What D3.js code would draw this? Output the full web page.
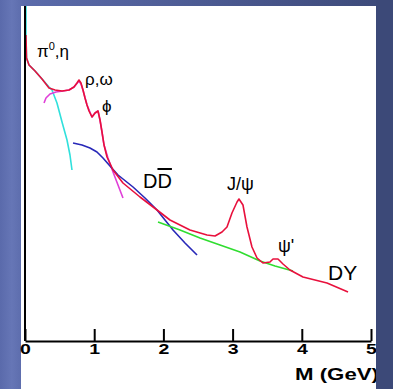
<!DOCTYPE html>
<html><head><meta charset="utf-8">
<script src="https://cdn.jsdelivr.net/npm/d3@7"></script>
<style>html,body{margin:0;padding:0;background:#4a5a90;}svg{display:block;}</style>
</head><body>
<script>
// ---- data (x = mass M in GeV, y = log10 of yield, arbitrary units) ----
const xTicks = [0, 1, 2, 3, 4, 5];
const xLabel = "M (GeV)";

const totalM = [0.014,0.022,0.058,0.145,0.246,0.347,0.434,0.535,0.636,0.708,0.751,0.780,0.809,0.838,0.867,0.896,0.925,0.968,1.012,1.055,1.084,1.113,1.142,1.185,1.272,1.416,1.662,1.908,2.095,2.384,2.630,2.746,2.847,2.919,2.991,3.064,3.092,3.150,3.208,3.280,3.353,3.439,3.540,3.584,3.656,3.728,3.829,4.017,4.364,4.668];
const totalY = [-0.58,-1.04,-1.18,-1.30,-1.46,-1.64,-1.68,-1.70,-1.68,-1.62,-1.54,-1.48,-1.54,-1.68,-1.84,-1.98,-2.10,-2.22,-2.14,-2.10,-2.28,-2.52,-2.78,-3.02,-3.28,-3.54,-3.82,-4.08,-4.28,-4.48,-4.58,-4.60,-4.52,-4.42,-4.14,-3.92,-3.86,-3.98,-4.42,-4.82,-5.04,-5.14,-5.12,-5.06,-5.06,-5.16,-5.28,-5.42,-5.54,-5.72];

const dalitzM = [0.014,0.014,0.022,0.058,0.145,0.246,0.347,0.390,0.462,0.535,0.607,0.650,0.679];
const dalitzY = [0.00,-0.58,-1.04,-1.18,-1.30,-1.46,-1.62,-1.68,-1.94,-2.32,-2.68,-2.98,-3.28];

const vectorM = [0.275,0.303,0.361,0.448,0.549,0.636,0.708,0.780,0.809,0.838,0.896,0.968,1.012,1.055,1.084,1.142,1.199,1.272,1.344,1.416];
const vectorY = [-1.94,-1.84,-1.76,-1.72,-1.70,-1.68,-1.62,-1.50,-1.56,-1.68,-1.98,-2.22,-2.14,-2.10,-2.28,-2.78,-3.04,-3.32,-3.58,-3.84];

const charmM = [0.694,0.824,0.939,1.040,1.127,1.228,1.344,1.561,1.734,1.908,2.023,2.139,2.312,2.486];
const charmY = [-2.74,-2.78,-2.84,-2.92,-3.04,-3.20,-3.38,-3.62,-3.84,-4.08,-4.28,-4.48,-4.74,-4.98];

const dyM = [1.922,2.240,2.529,2.818,3.107,3.396,3.613,3.873];
const dyY = [-4.32,-4.48,-4.64,-4.78,-4.92,-5.10,-5.20,-5.30];

// ---- layout ----
const W = 393, H = 389;
const svg = d3.select("body").append("svg").attr("width", W).attr("height", H);
const defs = svg.append("defs");
const g = defs.append("linearGradient").attr("id","bg").attr("x1","0").attr("x2","1").attr("y1","0").attr("y2","0");
g.append("stop").attr("offset","0").attr("stop-color","#5a6aab");
g.append("stop").attr("offset","0.03").attr("stop-color","#6676b6");
g.append("stop").attr("offset","0.06").attr("stop-color","#5b6bab");
g.append("stop").attr("offset","1").attr("stop-color","#3c4978");
svg.append("rect").attr("width",W).attr("height",H).attr("fill","url(#bg)");
svg.append("rect").attr("x",21).attr("y",6).attr("width",355).attr("height",H-6).attr("fill","#ffffff");

const x = d3.scaleLinear().domain([0, 5]).range([25, 371]);
const y = d3.scaleLinear().domain([-6.7, 0]).range([341, 6]);

const line = d3.line().x(d => x(d[0])).y(d => y(d[1]));
const zip = (a, b) => a.map((v, i) => [v, b[i]]);

const curves = [
  {m: dalitzM, v: dalitzY, c: "#30e0dc"},
  {m: vectorM, v: vectorY, c: "#e040d8"},
  {m: charmM,  v: charmY,  c: "#2828b8"},
  {m: dyM,     v: dyY,     c: "#30dd30"},
  {m: totalM,  v: totalY,  c: "#e8103c"}
];
curves.forEach(cv => {
  svg.append("path").attr("d", line(zip(cv.m, cv.v)))
    .attr("fill","none").attr("stroke", cv.c).attr("stroke-width", 1.6)
    .attr("stroke-linejoin","round");
});

// axes
const xAxis = d3.axisBottom(x).tickValues(xTicks).tickFormat(d3.format("d"))
  .tickSizeInner(-12).tickSizeOuter(0).tickPadding(2);
const ax = svg.append("g").attr("transform", `translate(0,${y(-6.7)})`).call(xAxis);
ax.select(".domain").attr("stroke","#000").attr("stroke-width",2);
ax.selectAll(".tick line").attr("stroke","#000").attr("stroke-width",2);
ax.selectAll(".tick text").attr("fill","#000").attr("transform","scale(1.3,1)")
  .style("font-family","Liberation Sans, Arial, sans-serif")
  .style("font-weight","bold").style("font-size","15px");
svg.append("line").attr("x1",x(0)).attr("x2",x(0)).attr("y1",6).attr("y2",y(-6.7))
  .attr("stroke","#000").attr("stroke-width",2);

svg.append("text").attr("x",295).attr("y",380)
  .style("font-family","Liberation Sans, Arial, sans-serif")
  .style("font-weight","bold").style("font-size","17px")
  .attr("textLength",84).attr("lengthAdjust","spacingAndGlyphs")
  .text(xLabel);

// annotations
const font = "Liberation Sans, Arial, sans-serif";
const t1 = svg.append("text").attr("x",37).attr("y",57).style("font-family",font).style("font-size","17px");
t1.append("tspan").text("π");
t1.append("tspan").attr("dy",-7).style("font-size","11px").text("0");
t1.append("tspan").attr("dy",7).text(",η");

svg.append("text").attr("x",85).attr("y",85).style("font-family",font).style("font-size","17px").text("ρ,ω");
svg.append("text").attr("x",102).attr("y",112).style("font-family",font).style("font-size","17px").text("ϕ");

const dd = svg.append("text").attr("x",143).attr("y",188).style("font-family",font).style("font-size","20px");
dd.append("tspan").text("D");
dd.append("tspan").style("text-decoration","overline").text("D");

svg.append("text").attr("x",227).attr("y",190).style("font-family",font).style("font-size","18px").text("J/ψ");
svg.append("text").attr("x",278).attr("y",252).style("font-family",font).style("font-size","18px").text("ψ'");
svg.append("text").attr("x",328).attr("y",280).style("font-family",font).style("font-size","21px").text("DY");

// right margin strip (clips axis title like the original)
svg.append("rect").attr("x",376).attr("y",0).attr("width",W-376).attr("height",H).attr("fill","#3c4978");
</script>
</body></html>
